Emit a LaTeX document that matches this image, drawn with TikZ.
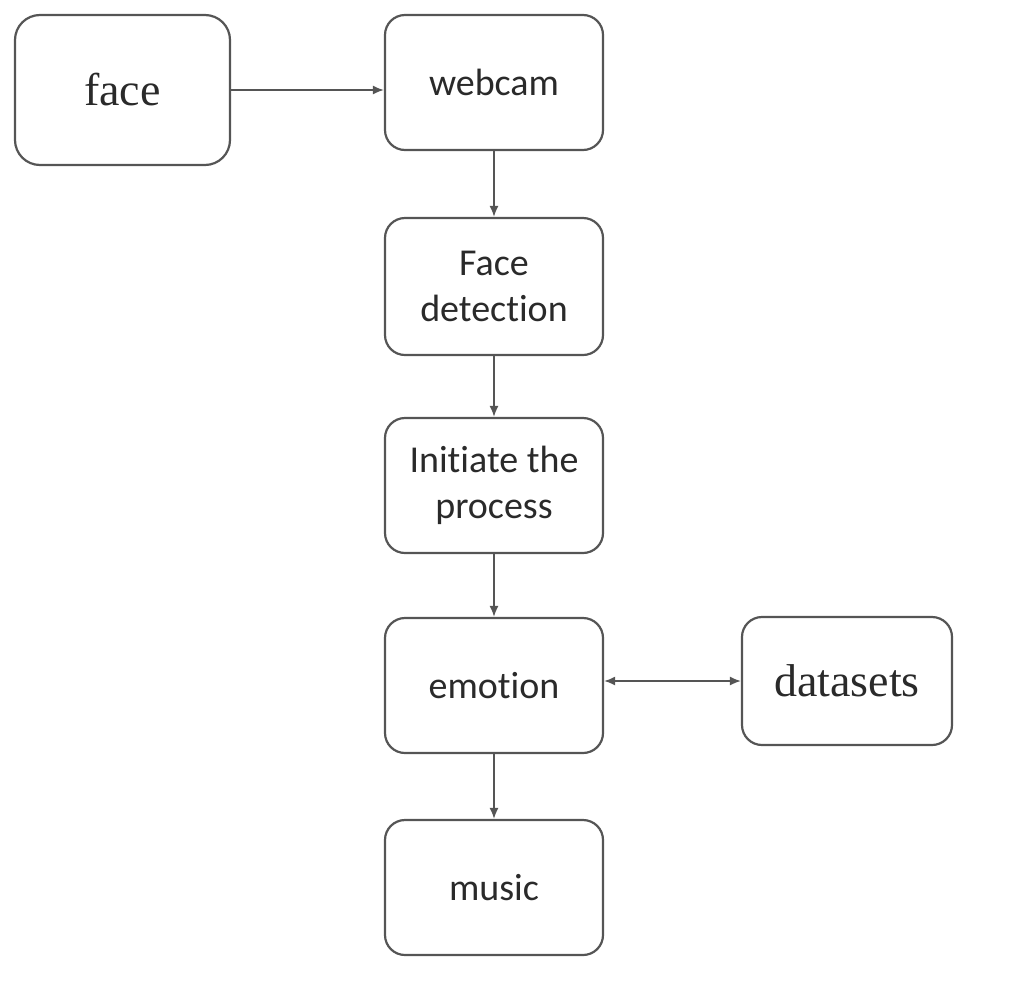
\documentclass[tikz,border=0pt]{standalone}
\usepackage{fontspec}
\setmainfont{Liberation Serif}
\newfontfamily\boxfont[Ligatures=NoCommon]{Carlito}
\usetikzlibrary{arrows.meta}
\definecolor{linegray}{HTML}{555555}
\definecolor{textgray}{HTML}{2A2A2A}
\tikzset{
	stepbox/.style={draw=linegray, line width=1.1pt, rounded corners=10pt, align=center,
		minimum width=109pt, minimum height=67.5pt, text=textgray,
		font=\boxfont\fontsize{19}{23}\selectfont},
	serifbox/.style={stepbox, font=\fontsize{23}{27}\selectfont},
	flow/.style={draw=linegray, line width=0.8pt, -{Latex[length=5.5pt,width=4.5pt]}},
	twoway/.style={draw=linegray, line width=0.8pt, {Latex[length=5.5pt,width=4.5pt]}-{Latex[length=5.5pt,width=4.5pt]}}
}
\begin{document}
\begin{tikzpicture}[x=0.5pt, y=-0.5pt]
	\def\xmid{494} % Centre of the main column
	\useasboundingbox (0,0) rectangle (1026,980);
	
	% Boxes
	\node[serifbox, minimum width=107.5pt, minimum height=75pt, rounded corners=12.5pt] (face) at (122.5,90) {face};
	\node[stepbox] (webcam) at (\xmid,82.5) {webcam};
	\node[stepbox, minimum height=68.5pt] (detect) at (\xmid,286.5) {Face\\detection};
	\node[stepbox] (initiate) at (\xmid,485.5) {Initiate the\\process};
	\node[stepbox] (emotion) at (\xmid,685.5) {emotion};
	\node[serifbox, minimum width=105pt, minimum height=64pt] (datasets) at (847,681) {datasets};
	\node[stepbox] (music) at (\xmid,887.5) {music};
	
	% Connectors
	\draw[flow] (face.east) -- (face.east -| webcam.west);
	\draw[flow] (webcam) -- (detect);
	\draw[flow] (detect) -- (initiate);
	\draw[flow] (initiate) -- (emotion);
	\draw[flow] (emotion) -- (music);
	\draw[twoway] (datasets.west -| emotion.east) -- (datasets.west);
\end{tikzpicture}
\end{document}
